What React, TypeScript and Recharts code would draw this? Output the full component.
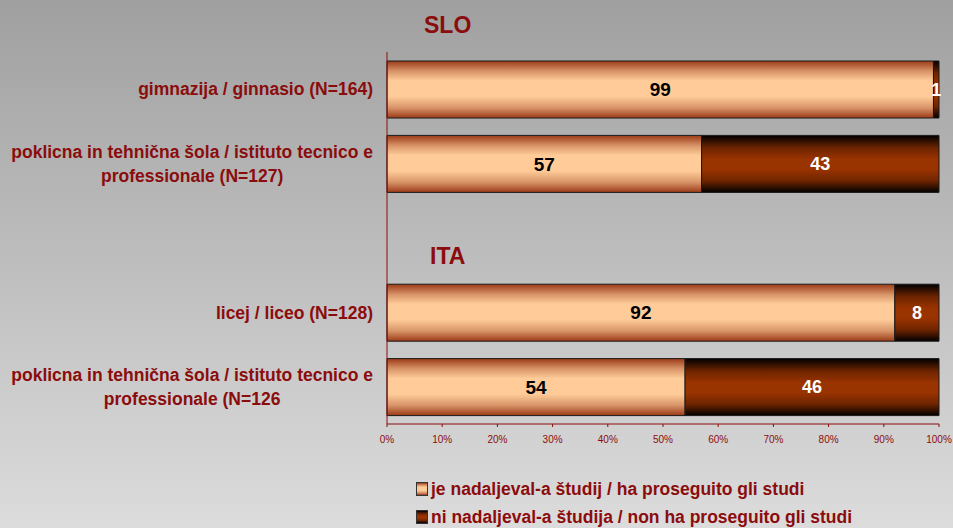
import { BarChart, Bar, XAxis, YAxis, Legend, LabelList } from "recharts"

const categories = [
  "gimnazija / ginnasio (N=164)",
  "poklicna in tehnična šola / istituto tecnico e\nprofessionale (N=127)",
  "",
  "licej / liceo (N=128)",
  "poklicna in tehnična šola / istituto tecnico e\nprofessionale (N=126",
]
const continued = [99, 57, null, 92, 54]
const notContinued = [1, 43, null, 8, 46]
const xTicks = [0, 10, 20, 30, 40, 50, 60, 70, 80, 90, 100]
const seriesNames = [
  "je nadaljeval-a študij / ha proseguito gli studi",
  "ni nadaljeval-a študija / non ha proseguito gli studi",
]
const groupTitles = ["SLO", "ITA"]

const data = categories.map((cat, i) => ({
  cat,
  continued: continued[i],
  notContinued: notContinued[i],
}))

const RED = "#8b0c0c"
const FONT = "'Liberation Sans', Arial, sans-serif"
const LABEL_FONT = `bold 17.5px ${FONT}`

let ctx: CanvasRenderingContext2D | null = null
function measure(s: string) {
  if (!ctx) ctx = document.createElement("canvas").getContext("2d")
  if (!ctx) return s.length * 9
  ctx.font = LABEL_FONT
  return ctx.measureText(s).width
}

const CategoryTick = ({ x, y, payload }: any) => {
  const lines = String(payload.value).split("\n").filter(Boolean)
  if (!lines.length) return null
  const w = Math.max(...lines.map(measure))
  const cx = x - w / 2
  const lh = 24
  const y0 = y - ((lines.length - 1) * lh) / 2
  return (
    <text textAnchor="middle" fill={RED} style={{ font: LABEL_FONT }}>
      {lines.map((l: string, i: number) => (
        <tspan key={i} x={cx} y={y0 + i * lh} dy="0.35em">
          {l}
        </tspan>
      ))}
    </text>
  )
}

const lightGrad = "linear-gradient(#9c3a18 0%, #d89468 18%, #ffcc99 35%, #ffcc99 62%, #d89468 82%, #9c3a18 100%)"
const darkGrad = "linear-gradient(#000 0%, #6e2400 22%, #993300 42%, #993300 60%, #6e2400 80%, #000 100%)"

const LegendBox = () => (
  <div style={{ fontFamily: FONT, fontWeight: "bold", fontSize: 17.5, color: RED }}>
    {seriesNames.map((name, i) => (
      <div key={name} style={{ display: "flex", alignItems: "center", height: 28 }}>
        <span
          style={{
            width: 10,
            height: 12,
            border: "1px solid #333",
            background: i === 0 ? lightGrad : darkGrad,
            marginRight: 3,
          }}
        />
        {name}
      </div>
    ))}
  </div>
)

export default function App() {
  return (
    <div
      style={{
        position: "relative",
        width: 953,
        height: 528,
        background: "linear-gradient(#a0a0a0, #dcdcdc)",
        fontFamily: FONT,
      }}
    >
      <style>{"body{margin:0}"}</style>
      <BarChart
        width={953}
        height={528}
        data={data}
        layout="vertical"
        margin={{ top: 52, right: 14, bottom: 74, left: 0 }}
        barSize={57}
      >
        <defs>
          <linearGradient id="gLight" x1="0" y1="0" x2="0" y2="1">
            <stop offset="0%" stopColor="#9c3a18" />
            <stop offset="18%" stopColor="#d89468" />
            <stop offset="35%" stopColor="#ffcc99" />
            <stop offset="62%" stopColor="#ffcc99" />
            <stop offset="82%" stopColor="#d89468" />
            <stop offset="100%" stopColor="#9c3a18" />
          </linearGradient>
          <linearGradient id="gDark" x1="0" y1="0" x2="0" y2="1">
            <stop offset="0%" stopColor="#000000" />
            <stop offset="22%" stopColor="#6e2400" />
            <stop offset="42%" stopColor="#993300" />
            <stop offset="60%" stopColor="#993300" />
            <stop offset="80%" stopColor="#6e2400" />
            <stop offset="100%" stopColor="#000000" />
          </linearGradient>
        </defs>
        <XAxis
          type="number"
          domain={[0, 100]}
          ticks={xTicks}
          tickFormatter={(v: number) => `${v}%`}
          axisLine={{ stroke: RED }}
          tickLine={{ stroke: RED }}
          tickSize={3}
          tickMargin={9}
          tick={{ fill: RED, fontSize: 10, fontFamily: FONT }}
          height={30}
        />
        <YAxis
          type="category"
          dataKey="cat"
          width={387}
          axisLine={{ stroke: RED }}
          tickLine={false}
          tickSize={0}
          tickMargin={14}
          tick={<CategoryTick />}
          interval={0}
        />
        <Legend
          layout="horizontal"
          verticalAlign="middle"
          align="center"
          wrapperStyle={{ top: 475, left: 416, width: "auto" }}
          content={() => <LegendBox />}
        />
        <Bar dataKey="continued" stackId="a" fill="url(#gLight)" stroke="#1a1a1a" strokeWidth={1} isAnimationActive={false}>
          <LabelList
            dataKey="continued"
            position="center"
            formatter={(v: any) => (v == null ? "" : v)}
            fill="#000"
            style={{ fontWeight: "bold", fontSize: 19, fontFamily: FONT }}
          />
        </Bar>
        <Bar dataKey="notContinued" stackId="a" fill="url(#gDark)" stroke="#1a1a1a" strokeWidth={1} isAnimationActive={false}>
          <LabelList
            dataKey="notContinued"
            position="center"
            formatter={(v: any) => (v == null ? "" : v)}
            fill="#fff"
            style={{ fontWeight: "bold", fontSize: 18, fontFamily: FONT }}
          />
        </Bar>
      </BarChart>
      <div style={{ position: "absolute", left: 424, top: 12, fontWeight: "bold", fontSize: 23, color: RED }}>
        {groupTitles[0]}
      </div>
      <div style={{ position: "absolute", left: 430, top: 243, fontWeight: "bold", fontSize: 23, color: RED }}>
        {groupTitles[1]}
      </div>
    </div>
  )
}
